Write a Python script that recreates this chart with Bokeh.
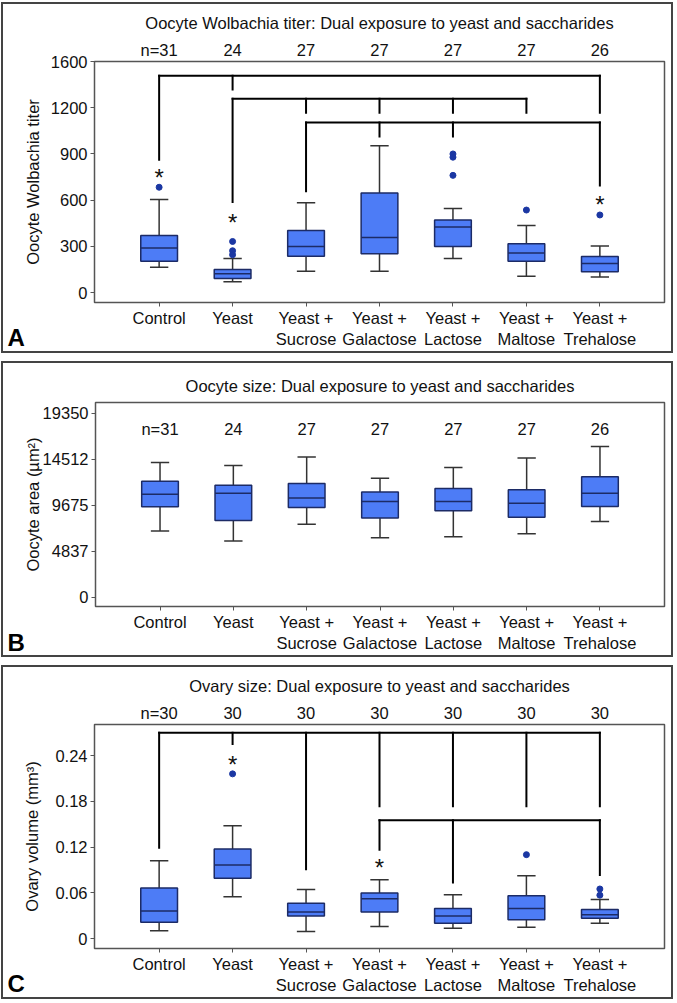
from bokeh.plotting import figure
from bokeh.models import Range1d, FixedTicker, Label, LinearAxis, ColumnDataSource
from bokeh.layouts import column
from bokeh.embed import file_html
from bokeh.resources import INLINE
from bokeh.core.properties import value

# ---------------- data ----------------
categories = ["Control", "Yeast", "Yeast + Sucrose", "Yeast + Galactose",
              "Yeast + Lactose", "Yeast + Maltose", "Yeast + Trehalose"]
category_labels = ["Control", "Yeast", "Yeast +\nSucrose", "Yeast +\nGalactose",
                   "Yeast +\nLactose", "Yeast +\nMaltose", "Yeast +\nTrehalose"]

# Panel A: oocyte Wolbachia titer
a_n = [31, 24, 27, 27, 27, 27, 26]
a_low = [165, 71, 139, 139, 221, 107, 101]
a_q1 = [204, 92, 236, 253, 300, 204, 135]
a_med = [289, 122, 300, 358, 426, 257, 189]
a_q3 = [371, 150, 403, 647, 471, 317, 234]
a_high = [604, 221, 583, 954, 546, 435, 302]
a_out_cat = ["Control", "Yeast", "Yeast", "Yeast", "Yeast + Lactose", "Yeast + Lactose",
             "Yeast + Lactose", "Yeast + Maltose", "Yeast + Trehalose"]
a_out_val = [684, 332, 272, 246, 900, 879, 761, 536, 504]
a_star_cat = ["Control", "Yeast", "Yeast + Trehalose"]
a_star_val = [789, 493, 611]
a_bar_from = ["Control", "Yeast", "Yeast + Sucrose"]
a_bar_to = ["Yeast + Trehalose", "Yeast + Maltose", "Yeast + Trehalose"]
a_bar_y = [1408, 1258, 1104]
a_leg_cat = ["Control", "Yeast", "Yeast + Trehalose",
             "Yeast", "Yeast + Sucrose", "Yeast + Galactose", "Yeast + Lactose", "Yeast + Maltose",
             "Yeast + Sucrose", "Yeast + Galactose", "Yeast + Lactose", "Yeast + Trehalose"]
a_leg_top = [1408, 1408, 1408, 1258, 1258, 1258, 1258, 1258, 1104, 1104, 1104, 1104]
a_leg_bottom = [863, 1318, 1168, 589, 1168, 1168, 1168, 1168, 658, 1014, 1014, 696]
a_ticks = [0, 300, 600, 900, 1200, 1500]
a_tick_labels = ["0", "300", "600", "900", "1200", "1600"]

# Panel B: oocyte area
b_n = [31, 24, 27, 27, 27, 27, 26]
b_low = [6945, 5908, 7670, 6254, 6357, 6668, 7947]
b_q1 = [9501, 8050, 9432, 8327, 9087, 8396, 9536]
b_med = [10814, 10918, 10434, 10054, 10054, 9881, 10918]
b_q3 = [12196, 11782, 11954, 11056, 11436, 11298, 12680]
b_high = [14166, 13855, 14753, 12507, 13647, 14649, 15858]
b_ticks = [0, 4837, 9675, 14512, 19350]
b_tick_labels = ["0", "4837", "9675", "14512", "19350"]

# Panel C: ovary volume
c_n = [30, 30, 30, 30, 30, 30, 30]
c_low = [0.0103, 0.0549, 0.0094, 0.0159, 0.0137, 0.0150, 0.0201]
c_q1 = [0.0214, 0.0793, 0.0296, 0.0351, 0.0201, 0.0249, 0.0266]
c_med = [0.0364, 0.0964, 0.0351, 0.0523, 0.0296, 0.0394, 0.0313]
c_q3 = [0.0664, 0.1174, 0.0463, 0.0600, 0.0394, 0.0561, 0.0381]
c_high = [0.1020, 0.1480, 0.0643, 0.0771, 0.0574, 0.0823, 0.0514]
c_out_cat = ["Yeast", "Yeast + Maltose", "Yeast + Trehalose", "Yeast + Trehalose"]
c_out_val = [0.216, 0.1101, 0.0651, 0.0570]
c_star_cat = ["Yeast", "Yeast + Galactose"]
c_star_val = [0.236, 0.1007]
c_bar_from = ["Control", "Yeast + Galactose"]
c_bar_to = ["Yeast + Trehalose", "Yeast + Trehalose"]
c_bar_y = [0.270, 0.1551]
c_leg_cat = ["Control", "Yeast", "Yeast + Sucrose", "Yeast + Galactose", "Yeast + Lactose",
             "Yeast + Maltose", "Yeast + Trehalose",
             "Yeast + Galactose", "Yeast + Lactose", "Yeast + Trehalose"]
c_leg_top = [0.270] * 7 + [0.1551] * 3
c_leg_bottom = [0.119, 0.255, 0.0909, 0.1736, 0.1736, 0.1736, 0.1736, 0.1166, 0.0737, 0.0836]
c_ticks = [0, 0.06, 0.12, 0.18, 0.24]
c_tick_labels = ["0", "0.06", "0.12", "0.18", "0.24"]

# ---------------- style ----------------
FONT = "Liberation Sans"
FSS = "16.5px"
BOX_FILL = "#4d7cf6"
BOX_EDGE = "#1c2b66"
WHISK = "#333333"
OUT_COL = "#1b37a3"
W = 668
LEFT, RIGHT = 88, 7
XR = (-0.88, 6.88)
POS = {c: i for i, c in enumerate(categories)}


def xi(cats):
    return [POS[c] for c in cats]


def make_panel(height, top, bottom, yr, ticks, tick_labels, n, low, q1, med, q3, high,
               out_cat=None, out_val=None, star_cat=None, star_val=None,
               bar_from=None, bar_to=None, bar_y=None, leg_cat=None, leg_top=None, leg_bottom=None,
               n_inside=None):
    p = figure(width=W, height=height, x_range=Range1d(*XR), y_range=Range1d(*yr),
               output_backend="svg", toolbar_location=None,
               min_border_left=LEFT, min_border_right=RIGHT,
               min_border_top=top, min_border_bottom=bottom)
    p.background_fill_color = "white"
    p.border_fill_color = "white"
    p.outline_line_color = "#555555"
    p.outline_line_width = 1.5
    p.grid.visible = False
    p.axis.axis_line_color = None
    p.axis.major_tick_line_color = "#555555"
    p.axis.major_tick_out = 4
    p.axis.major_tick_in = 0
    p.axis.minor_tick_line_color = None
    p.yaxis.ticker = FixedTicker(ticks=ticks)
    p.yaxis.major_label_overrides = {t: l for t, l in zip(ticks, tick_labels)}
    p.axis.major_label_text_font = FONT
    p.axis.major_label_text_font_size = FSS
    p.axis.major_label_text_color = "#111111"
    p.yaxis.major_label_standoff = 3
    xpos = list(range(len(categories)))
    p.xaxis.ticker = FixedTicker(ticks=xpos)
    p.xaxis.major_label_overrides = {i: l for i, l in zip(xpos, category_labels)}
    p.xaxis.major_label_standoff = 2

    src = ColumnDataSource(dict(x=xpos, xl=[v - 0.125 for v in xpos], xr=[v + 0.125 for v in xpos],
                                bl=[v - 0.25 for v in xpos], br=[v + 0.25 for v in xpos],
                                low=low, q1=q1, med=med, q3=q3, high=high,
                                n=[("n=%d" % v) if i == 0 else str(v) for i, v in enumerate(n)]))
    p.segment(x0="x", x1="x", y0="q3", y1="high", source=src, line_color=WHISK, line_width=1.5)
    p.segment(x0="x", x1="x", y0="low", y1="q1", source=src, line_color=WHISK, line_width=1.5)
    for col in ("low", "high"):
        p.segment(x0="xl", x1="xr", y0=col, y1=col, source=src, line_color=WHISK, line_width=1.5)
    p.vbar(x="x", bottom="q1", top="q3", width=0.5, source=src,
           fill_color=BOX_FILL, line_color=BOX_EDGE, line_width=1.5)
    p.segment(x0="bl", x1="br", y0="med", y1="med", source=src, line_color=BOX_EDGE, line_width=1.5)
    if out_cat:
        p.scatter(x=xi(out_cat), y=out_val, size=6, fill_color=OUT_COL, line_color=OUT_COL)
    if bar_from:
        p.segment(x0=xi(bar_from), x1=xi(bar_to), y0=bar_y, y1=bar_y, line_color="black",
                  line_width=2, line_cap="square")
        p.segment(x0=xi(leg_cat), x1=xi(leg_cat), y0=leg_top, y1=leg_bottom, line_color="black",
                  line_width=2, line_cap="square")
    if star_cat:
        p.text(x=xi(star_cat), y=star_val, text=["*"] * len(star_cat), text_align="center",
               text_baseline="middle", y_offset=6, text_font=value(FONT),
               text_font_size="24px", text_color="#111111")
    if n_inside is not None:
        p.text(x="x", y=n_inside, text="n", source=src, text_align="center",
               text_baseline="middle", text_font=value(FONT), text_font_size=FSS,
               text_color="#111111")
    else:
        p.extra_x_ranges = {"nx": Range1d(*XR)}
        ax = LinearAxis(x_range_name="nx", ticker=FixedTicker(ticks=xpos),
                        major_label_overrides={i: s for i, s in zip(xpos, src.data["n"])},
                        axis_line_color=None, major_tick_line_color=None, minor_tick_line_color=None,
                        major_label_standoff=-3, major_label_text_font=FONT,
                        major_label_text_font_size=FSS, major_label_text_color="#111111")
        p.add_layout(ax, "above")
    return p


def style_title(p, text, standoff):
    p.title.text = text
    p.title.align = "center"
    p.title.offset = -9
    p.title.text_font = FONT
    p.title.text_font_size = FSS
    p.title.text_font_style = "normal"
    p.title.text_color = "#111111"
    p.title.standoff = standoff


def style_ylabel(p, text, standoff):
    p.yaxis.axis_label = text
    p.yaxis.axis_label_text_font = FONT
    p.yaxis.axis_label_text_font_size = FSS
    p.yaxis.axis_label_text_font_style = "normal"
    p.yaxis.axis_label_text_color = "#111111"
    p.yaxis.axis_label_standoff = standoff


def add_letter(p, letter, below):
    # panel letter, placed in its own left-side panel (outermost)
    p.add_layout(Label(x=4, y=-below, x_units="screen", y_units="screen",
                       text=letter, text_align="left", text_baseline="alphabetic",
                       text_font_style="bold", text_font=FONT, text_font_size="24px",
                       text_color="black"), "left")


pA = make_panel(347, 57, 47, (-64, 1500), a_ticks, a_tick_labels, a_n,
                a_low, a_q1, a_med, a_q3, a_high, a_out_cat, a_out_val, a_star_cat, a_star_val,
                a_bar_from, a_bar_to, a_bar_y, a_leg_cat, a_leg_top, a_leg_bottom)
style_title(pA, "Oocyte Wolbachia titer: Dual exposure to yeast and saccharides", 11)
style_ylabel(pA, "Oocyte Wolbachia titer", 6)
add_letter(pA, "A", 35)

pB = make_panel(292, 39, 46, (-1000, 20490), b_ticks, b_tick_labels, b_n,
                b_low, b_q1, b_med, b_q3, b_high, n_inside=17725)
style_title(pB, "Oocyte size: Dual exposure to yeast and saccharides", 16)
style_ylabel(pB, "Oocyte area (µm²)", -2)
add_letter(pB, "B", 36)

pC = make_panel(330, 57, 46, (-0.0129, 0.2807), c_ticks, c_tick_labels, c_n,
                c_low, c_q1, c_med, c_q3, c_high, c_out_cat, c_out_val, c_star_cat, c_star_val,
                c_bar_from, c_bar_to, c_bar_y, c_leg_cat, c_leg_top, c_leg_bottom)
style_title(pC, "Ovary size: Dual exposure to yeast and saccharides", 11)
style_ylabel(pC, "Ovary volume (mm³)", 11)
add_letter(pC, "C", 35)

BORDER = {"border": "2px solid #444444"}
layout = column(column(pA, styles=BORDER), column(pB, styles=BORDER), column(pC, styles=BORDER),
                spacing=8, styles={"margin-left": "1px", "margin-top": "2px"})
open("out.html", "w").write(file_html(layout, INLINE))
